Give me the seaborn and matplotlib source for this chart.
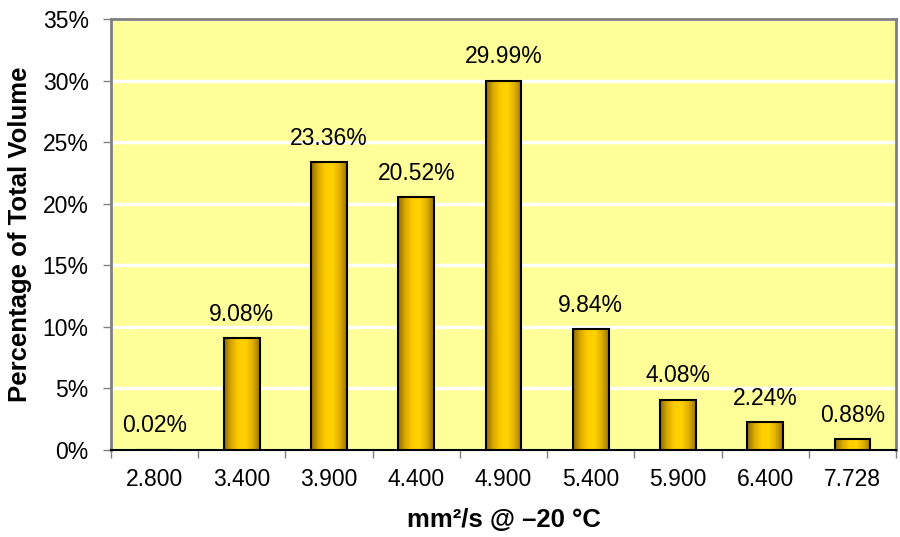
import seaborn as sns
import matplotlib.pyplot as plt
import matplotlib.colors as mcolors
import numpy as np
import pandas as pd

viscosity = ["2.800", "3.400", "3.900", "4.400", "4.900", "5.400", "5.900", "6.400", "7.728"]
percent = [0.02, 9.08, 23.36, 20.52, 29.99, 9.84, 4.08, 2.24, 0.88]

df = pd.DataFrame({"viscosity": viscosity, "percent": percent})

sns.set_theme(style="white")
plt.rcParams["font.family"] = ["Liberation Sans", "DejaVu Sans"]
plt.rcParams["text.color"] = "black"
plt.rcParams["axes.labelcolor"] = "black"
plt.rcParams["xtick.color"] = "black"
plt.rcParams["ytick.color"] = "black"

fig = plt.figure(figsize=(9, 5.37), dpi=100)
ax = fig.add_axes([0.1233, 0.162, 0.8723, 0.8026])
ax.set_facecolor("#FFFF99")

sns.barplot(data=df, x="viscosity", y="percent", width=0.41,
            color="#FFCC00", edgecolor="black", linewidth=1.5, ax=ax, zorder=3)

# horizontal gold gradient on each bar, dark at edges
grad_cmap = mcolors.LinearSegmentedColormap.from_list(
    "gold", ["#8C6A00", "#D9A800", "#FFCC00", "#FFD200", "#E0AE00", "#9A7400"])
grad = np.linspace(0, 1, 256).reshape(1, -1)
for p in ax.patches:
    x0, y0 = p.get_x(), p.get_y()
    w, h = p.get_width(), p.get_height()
    im = ax.imshow(grad, cmap=grad_cmap, aspect="auto",
                   extent=[x0, x0 + w, y0, y0 + h], zorder=3.5)
    im.set_clip_path(p)
    p.set_facecolor("none")
    p.set_zorder(4)

for i, v in enumerate(percent):
    ax.text(i, v + 1.0, f"{v:.2f}%", ha="center", va="bottom", fontsize=16.5,
            color="black", zorder=5)

ax.set_xlim(-0.5, len(viscosity) - 0.5)
ax.set_ylim(0, 35)
ax.set_yticks(range(0, 36, 5))
ax.set_yticklabels([f"{t}%" for t in range(0, 36, 5)])
ax.yaxis.grid(True, color="white", linewidth=2.5, zorder=0)
ax.set_axisbelow(True)

ax.set_xticks(np.arange(-0.5, len(viscosity), 1), minor=True)
ax.tick_params(axis="x", which="major", length=0, pad=13, labelsize=16.5)
ax.tick_params(axis="x", which="minor", length=6, color="#808080", width=1, direction="out", bottom=True)
ax.tick_params(axis="y", length=6, color="#808080", width=1, direction="out", left=True,
               labelsize=16.5, pad=10)

for s in ["top", "right", "left"]:
    ax.spines[s].set_visible(True)
    ax.spines[s].set_color("#808080")
    ax.spines[s].set_linewidth(2)
ax.spines["bottom"].set_color("black")
ax.spines["bottom"].set_linewidth(1.5)

ax.set_xlabel("mm²/s @ –20 °C", fontsize=18.5, fontweight="bold", labelpad=12)
ax.set_ylabel("Percentage of Total Volume", fontsize=18.5, fontweight="bold", labelpad=8)

fig.savefig("out.png", dpi=100)
